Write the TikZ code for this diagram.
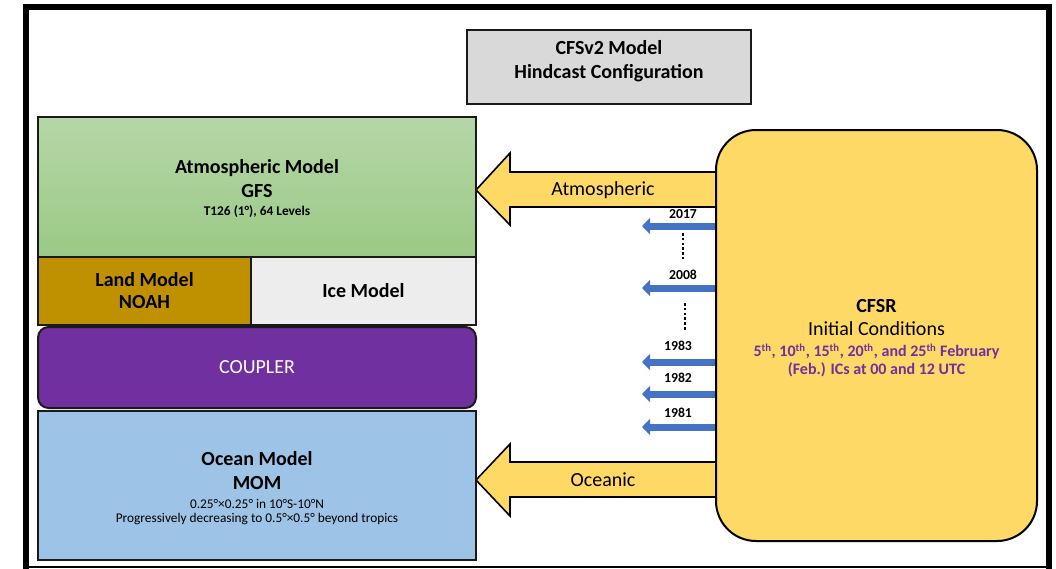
\documentclass[tikz,border=0pt]{standalone}
\usepackage{fontspec}
\setmainfont{Carlito}
\usetikzlibrary{arrows.meta}
\pgfdeclarelayer{background}
\pgfsetlayers{background,main}
\definecolor{atmtop}{HTML}{B5D7A8}
\definecolor{atmbot}{HTML}{9BC985}
\definecolor{landc}{HTML}{BF9000}
\definecolor{icec}{HTML}{EDEDED}
\definecolor{couplerc}{HTML}{7030A0}
\definecolor{oceanc}{HTML}{9DC3E6}
\definecolor{cfsrc}{HTML}{FFD966}
\definecolor{titlec}{HTML}{D9D9D9}
\definecolor{bluec}{HTML}{4472C4}
\definecolor{edgec}{HTML}{1A1A1A}
\definecolor{purplec}{HTML}{7030A0}
\begin{document}
\begin{tikzpicture}[x=0.75pt,y=-0.75pt,
  box/.style={draw=edgec, line width=1.5pt, inner sep=0pt, outer sep=0pt, align=center, font=\fontsize{15}{18}\selectfont},
  txt/.style={align=center, inner sep=0pt, font=\fontsize{15}{18}\selectfont},
  yarrow/.style={fill=cfsrc, draw=black, line width=1.2pt, line join=miter},
  bluearrow/.style={draw=bluec, line width=5.25pt, -{Triangle[length=6pt,width=12pt]}},
  yearlbl/.style={font=\fontsize{10.3}{12}\selectfont\bfseries, inner sep=0pt},
  dotline/.style={line width=2.2pt, dash pattern=on 2pt off 1.6pt},
  arrlbl/.style={font=\fontsize{15}{18}\selectfont, inner sep=0pt}
]
\useasboundingbox (0,0) rectangle (1056,568);
% outer frame
\draw[line width=4.2pt] (26,575) -- (26,7) -- (1049,7) -- (1049,575);
\draw[line width=1.5pt] (24,566.8) -- (1051,566.8);

% title
\node[box, fill=titlec, minimum width=213pt, minimum height=55.5pt] (title) at (609,67) {};
\node[txt, font=\fontsize{15}{18}\selectfont\bfseries] (titletext) at (609,61) {CFSv2 Model\\Hindcast Configuration};

% left stack
\node[box, top color=atmtop, bottom color=atmbot, minimum width=328.5pt, minimum height=105pt] (atm) at (257,187) {};
\node[txt] (atmtxt) at (257,188.5)
  {\textbf{Atmospheric Model}\\\textbf{GFS}\\[-5pt]{\fontsize{10}{12}\selectfont\bfseries T126 (1°), 64 Levels}};
\node[box, fill=landc, minimum width=159.75pt, minimum height=51pt] (land) at (144.5,291)
  {\textbf{Land Model}\\[-1.5pt]\textbf{NOAH}};
\node[box, fill=icec, minimum width=168.75pt, minimum height=51pt] (ice) at (363.5,291) {\textbf{Ice Model}};
\node[box, fill=couplerc, rounded corners=8pt, minimum width=328.5pt, minimum height=60.75pt, text=white] (coupler) at (257,367.5) {COUPLER};
\node[box, fill=oceanc, minimum width=328.5pt, minimum height=111.75pt] (ocean) at (257,485.5) {};
\node[txt] (oceantxt) at (257,488)
  {\textbf{Ocean Model}\\\textbf{MOM}\\[-3.75pt]{\fontsize{10}{12}\selectfont 0.25°×0.25° in 10°S-10°N}\\[-7.5pt]{\fontsize{10}{12}\selectfont Progressively decreasing to 0.5°×0.5° beyond tropics}};

% CFSR
\node[box, fill=cfsrc, draw=black, rounded corners=30pt, minimum width=240.75pt, minimum height=308.25pt] (cfsr) at (876.5,335.5) {};
\node[txt] (cfsrtxt) at (876.5,338.5)
  {\textbf{CFSR}\\[-0.75pt]Initial Conditions\\[-2.25pt]{\fontsize{12}{14}\selectfont\bfseries\color{purplec}5\textsuperscript{th}, 10\textsuperscript{th}, 15\textsuperscript{th}, 20\textsuperscript{th}, and 25\textsuperscript{th} February}\\[-4.5pt]{\fontsize{12}{14}\selectfont\bfseries\color{purplec}(Feb.) ICs at 00 and 12 UTC}};

% connectors
\coordinate (b2017) at (642,226);
\coordinate (b2008) at (642,288);
\coordinate (b1983) at (642,362);
\coordinate (b1982) at (642,394);
\coordinate (b1981) at (642,427);
\begin{pgfonlayer}{background}
\filldraw[yarrow] (cfsr.west |- 0,172) -- (510,172) -- (510,153) -- (atm.east |- 0,190) -- (510,225) -- (510,207) -- (cfsr.west |- 0,207);
\filldraw[yarrow] (cfsr.west |- 0,462) -- (510,462) -- (510,444) -- (ocean.east |- 0,480) -- (510,516) -- (510,497) -- (cfsr.west |- 0,497);
\draw[bluearrow] (cfsr.west |- b2017) -- (b2017);
\draw[bluearrow] (cfsr.west |- b2008) -- (b2008);
\draw[bluearrow] (cfsr.west |- b1983) -- (b1983);
\draw[bluearrow] (cfsr.west |- b1982) -- (b1982);
\draw[bluearrow] (cfsr.west |- b1981) -- (b1981);
\end{pgfonlayer}
\node[arrlbl] (atmlbl) at (603,190) {Atmospheric};
\node[arrlbl] (ocnlbl) at (603,480) {Oceanic};

\node[yearlbl] (y2017) at (683,214) {2017};
\node[yearlbl] (y2008) at (683,275) {2008};
\node[yearlbl] (y1983) at (678,346) {1983};
\node[yearlbl] (y1982) at (678,378) {1982};
\node[yearlbl] (y1981) at (678,413) {1981};

\coordinate (d1a) at (683,233);
\coordinate (d1b) at (683,259);
\coordinate (d2a) at (685,303);
\coordinate (d2b) at (685,330);
\draw[dotline] (d1a) -- (d1b);
\draw[dotline] (d2a) -- (d2b);
\end{tikzpicture}
\end{document}
